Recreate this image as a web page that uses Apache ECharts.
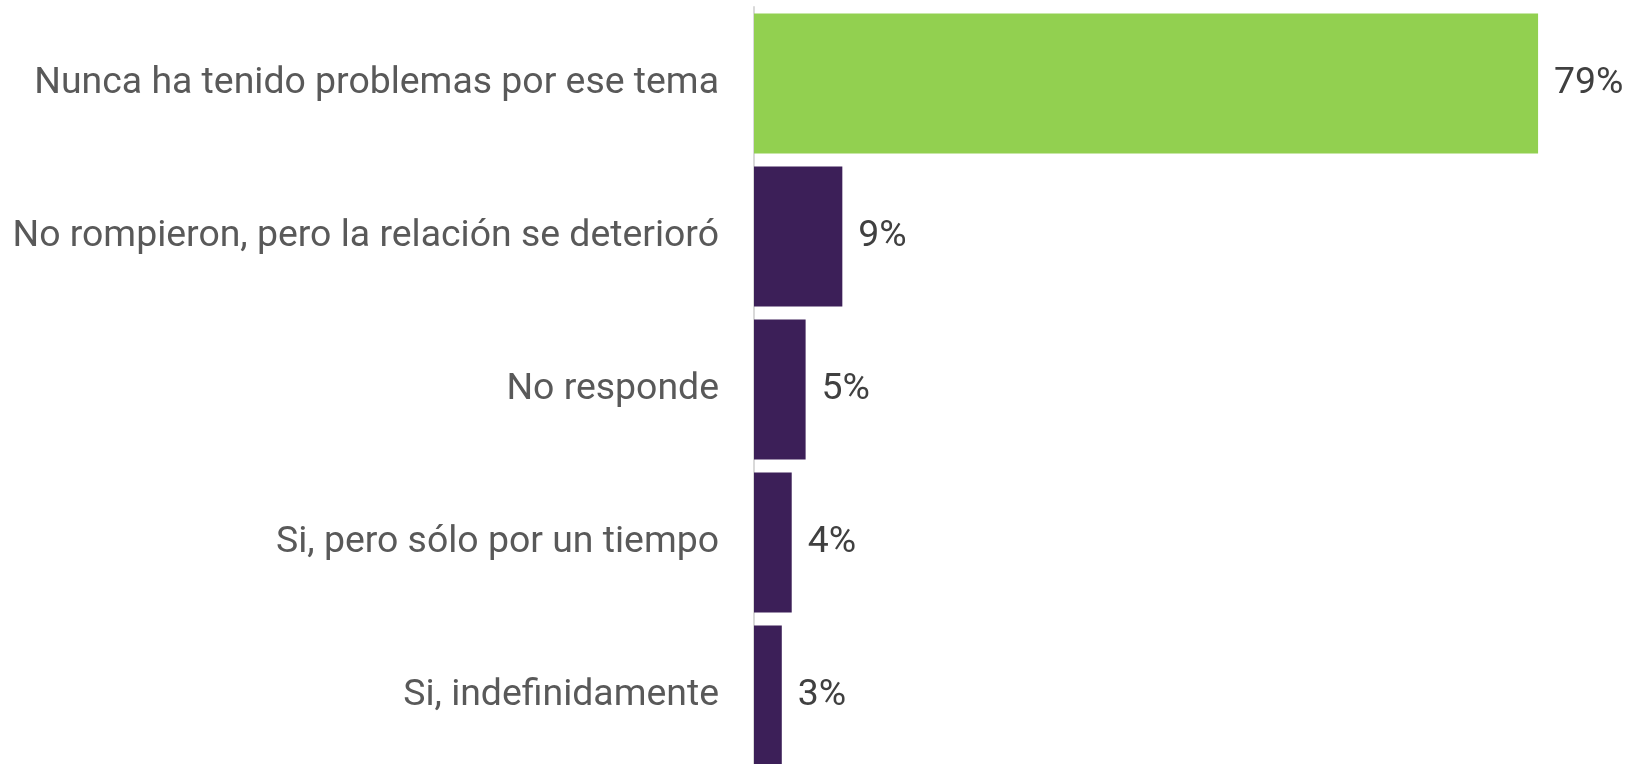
<!DOCTYPE html>
<html>
<head>
<meta charset="utf-8">
<style>
  html, body { margin: 0; padding: 0; background: #fff; }
  #chart { width: 1626px; height: 764px; }
</style>
<script src="https://cdn.jsdelivr.net/npm/echarts@6/dist/echarts.min.js"></script>
</head>
<body>
<div id="chart"></div>
<script>
const categories = [
  'Nunca ha tenido problemas por ese tema',
  'No rompieron, pero la relación se deterioró',
  'No responde',
  'Si, pero sólo por un tiempo',
  'Si, indefinidamente'
]
const values = [79, 8.9, 5.2, 3.8, 2.8]
const barColors = ['#92d050', '#3c1f58', '#3c1f58', '#3c1f58', '#3c1f58']

const chart = echarts.init(document.getElementById('chart'))
chart.setOption({
  animation: false,
  grid: {
    left: 754,
    right: 78,
    top: 7,
    bottom: -8,
    outerBoundsMode: 'none',
    containLabel: false
  },
  xAxis: {
    type: 'value',
    min: 0,
    max: 80,
    show: false
  },
  yAxis: {
    type: 'category',
    inverse: true,
    data: categories,
    axisLine: {
      lineStyle: { color: '#d9d9d9', width: 2 }
    },
    axisTick: { show: false },
    axisLabel: {
      margin: 35,
      color: '#595959',
      fontFamily: 'Roboto',
      fontSize: 37.4
    }
  },
  series: [{
    type: 'bar',
    barWidth: 140,
    data: values.map((v, i) => ({
      value: v,
      itemStyle: { color: barColors[i] }
    })),
    label: {
      show: true,
      position: 'right',
      distance: 16,
      color: '#404040',
      fontFamily: 'Roboto',
      fontSize: 37.4,
      formatter: p => Math.round(p.value) + '%'
    }
  }]
})
</script>
</body>
</html>
